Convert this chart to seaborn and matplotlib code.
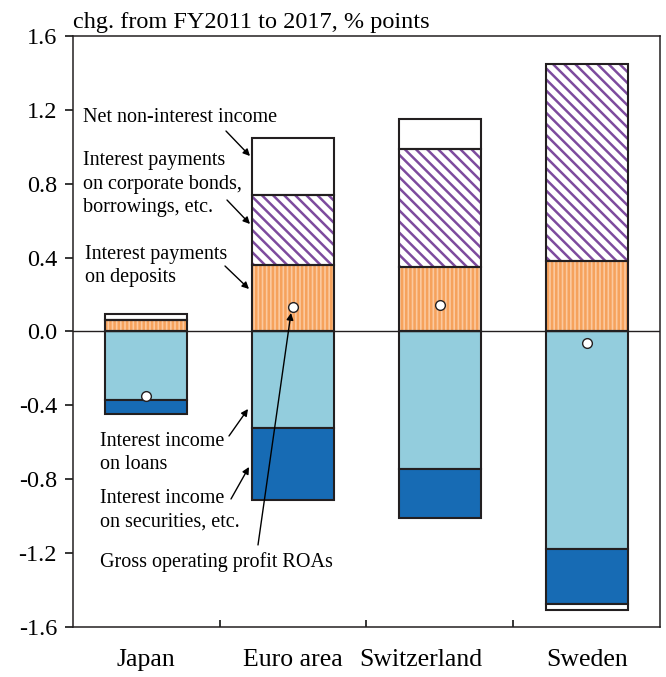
import numpy as np
import seaborn as sns
import matplotlib.pyplot as plt
from matplotlib.transforms import ScaledTranslation

plt.rcParams['font.family'] = ['Liberation Serif', 'DejaVu Serif']
plt.rcParams['hatch.linewidth'] = 1.8
plt.rcParams['axes.unicode_minus'] = False

# values (chg. from FY2011 to 2017, % points)
paises = ['Japan', 'Euro area', 'Switzerland', 'Sweden']
depositos = [0.06, 0.36, 0.35, 0.38]        # interest payments on deposits
titulos = [0.0, 0.38, 0.64, 1.07]           # interest payments on corporate bonds, borrowings
nao_juros = [0.035, 0.31, 0.16, -0.035]     # net non-interest income
emprestimos = [-0.37, -0.525, -0.745, -1.18]  # interest income on loans
valores_mob = [-0.075, -0.385, -0.265, -0.295]  # interest income on securities
roa = [-0.35, 0.135, 0.145, -0.06]           # gross operating profit ROAs
yticks = [-1.6, -1.2, -0.8, -0.4, 0.0, 0.4, 0.8, 1.2, 1.6]

dep = np.array(depositos)
tit = np.array(titulos)
nj = np.array(nao_juros)
emp = np.array(emprestimos)
vm = np.array(valores_mob)
base_nj = np.where(nj >= 0, dep + tit, emp + vm)

BORDA = '#231f20'
LARG = 0.56

fig = plt.figure(figsize=(6.66, 6.77), dpi=100)
ax = fig.add_axes([0.1096, 0.0739, 0.8814, 0.8729])


def contorno(y, base):
    n0 = len(ax.patches)
    sns.barplot(x=paises, y=y, bottom=base, width=LARG, color='white',
                errorbar=None, ax=ax)
    for p in ax.patches[n0:]:
        p.set_facecolor('none')
        p.set_edgecolor(BORDA)
        p.set_linewidth(1.5)
        p.set_zorder(3)


# orange: deposits (vertical stripes)
sns.barplot(x=paises, y=depositos, width=LARG, color='#fbc99f', saturation=1,
            edgecolor='#f6a25c', linewidth=0, hatch='||||', errorbar=None, ax=ax)
contorno(depositos, None)

# purple: bonds (diagonal stripes)
sns.barplot(x=paises, y=titulos, bottom=dep, width=LARG, color='white', saturation=1,
            edgecolor='#7d4b9e', linewidth=0, hatch='\\\\\\', errorbar=None, ax=ax)
contorno(titulos, dep)

# light blue: loans
sns.barplot(x=paises, y=emprestimos, width=LARG, color='#93cddd', saturation=1,
            edgecolor=BORDA, linewidth=1.5, errorbar=None, ax=ax)
# dark blue: securities
sns.barplot(x=paises, y=valores_mob, bottom=emp, width=LARG, color='#176bb4',
            saturation=1, edgecolor=BORDA, linewidth=1.5, errorbar=None, ax=ax)
# white: net non-interest income
sns.barplot(x=paises, y=nao_juros, bottom=base_nj, width=LARG, color='white',
            saturation=1, edgecolor=BORDA, linewidth=1.5, errorbar=None, ax=ax)

ax.axhline(0, color=BORDA, lw=1.0, zorder=2)

sns.stripplot(x=paises, y=roa, jitter=False, color='white', edgecolor=BORDA,
              linewidth=1.0, size=7, zorder=5, ax=ax)

ax.set_xlim(-0.5, 3.5)
ax.set_ylim(-1.6, 1.6)
ax.set_yticks(yticks)
ax.set_yticklabels(['%.1f' % v for v in yticks], fontsize=17.5)
ax.set_xticks(range(4))
ax.set_xticklabels(paises, fontsize=18.5)
ax.set_xticks([0.5, 1.5, 2.5], minor=True)
ax.tick_params(axis='x', which='major', length=0, pad=16)
ax.tick_params(axis='x', which='minor', direction='in', length=5, width=1.1)
ax.tick_params(axis='y', direction='out', length=5.5, width=1.1, pad=6)
ax.set_xlabel('')
ax.set_ylabel('')
for s in ax.spines.values():
    s.set_linewidth(1.1)
    s.set_color(BORDA)

# in the original the "Switzerland" label sits a bit left of its bar
lbl = ax.xaxis.get_major_ticks()[2].label1
lbl.set_transform(lbl.get_transform() + ScaledTranslation(-0.19, 0, fig.dpi_scale_trans))

ax.text(0.0, 1.005, 'chg. from FY2011 to 2017, % points', transform=ax.transAxes,
        ha='left', va='bottom', fontsize=17.5)


# annotations, positions given in pixels of the original figure
def px(xp, yp):
    return (xp - 73) / 146.75 - 0.5, (331.5 - yp) / 184.7


notas = [
    ('Net non-interest income', (83, 117), (226, 131), (250, 156)),
    ('Interest payments\non corporate bonds,\nborrowings, etc.', (83, 184), (227, 200), (250, 224)),
    ('Interest payments\non deposits', (85, 266), (225, 266), (249, 289)),
    ('Interest income\non loans', (100, 453), (229, 436), (248, 409)),
    ('Interest income\non securities, etc.', (100, 510), (231, 499), (249, 467)),
]
for txt, pos, ini, fim in notas:
    ax.text(*px(*pos), txt, ha='left', va='center', fontsize=14.5, linespacing=1.3)
    ax.annotate('', xy=px(*fim), xytext=px(*ini),
                arrowprops=dict(arrowstyle='-|>', color='black', lw=1.0,
                                mutation_scale=10, shrinkA=0, shrinkB=0))
ax.text(*px(100, 562), 'Gross operating profit ROAs', ha='left', va='center', fontsize=14.5)
ax.annotate('', xy=px(291, 313), xytext=px(258, 545),
            arrowprops=dict(arrowstyle='-|>', color='black', lw=1.0,
                            mutation_scale=10, shrinkA=0, shrinkB=0), zorder=6)

plt.savefig('out.png', dpi=100)
